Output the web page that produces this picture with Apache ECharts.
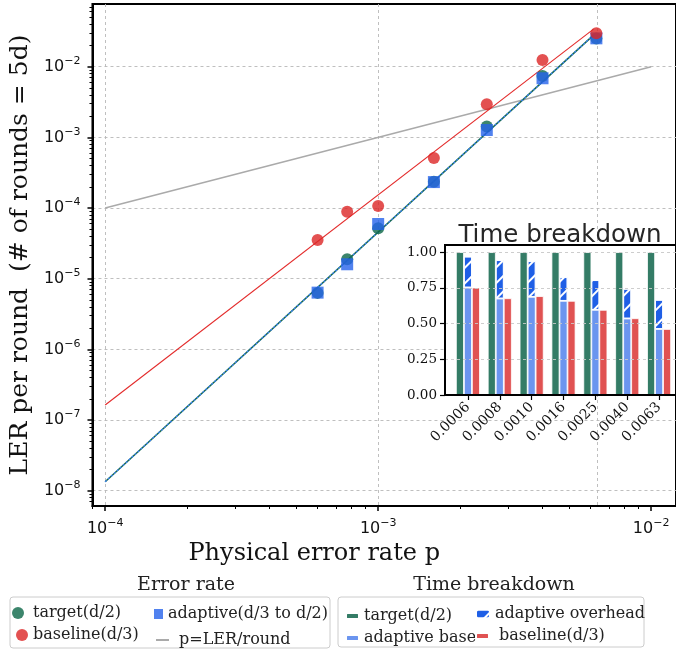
<!DOCTYPE html>
<html>
<head>
<meta charset="utf-8">
<title>LER per round</title>
<script src="https://cdn.jsdelivr.net/npm/echarts@6.0.0/dist/echarts.min.js"></script>
<style>
  html, body { margin: 0; padding: 0; background: #fff; }
  #main { width: 676px; height: 650px; }
</style>
</head>
<body>
<div id="main"></div>
<script type="text/javascript">
// main plot data
var pVals = [6.0e-4, 7.7e-4, 1.0e-3, 1.6e-3, 2.5e-3, 4.0e-3, 6.3e-3];
var lerTarget = [6.3e-6, 1.88e-5, 5.16e-5, 2.35e-4, 1.42e-3, 7.4e-3, 2.5e-2];
var lerAdaptive = [6.35e-6, 1.6e-5, 5.94e-5, 2.33e-4, 1.27e-3, 6.86e-3, 2.52e-2];
var lerBaseline = [3.53e-5, 8.87e-5, 1.07e-4, 5.1e-4, 2.94e-3, 1.24e-2, 2.97e-2];
// fitted lines (end points)
var fitP = [1e-4, 6.15e-3];
var fitTarget = [1.34e-8, 2.8e-2];
var fitAdaptive = [1.34e-8, 2.8e-2];
var fitBaseline = [1.63e-7, 3.4e-2];
var refP = [1e-4, 1e-2];
// tick values
var xMajor = [1e-4, 1e-3, 1e-2];
var yMajor = [1e-8, 1e-7, 1e-6, 1e-5, 1e-4, 1e-3, 1e-2];
var xGrid = [1e-4, 1e-3, 6.37e-3];

// inset data
var pLabels = ['0.0006', '0.0008', '0.0010', '0.0016', '0.0025', '0.0040', '0.0063'];
var timeTarget = [1, 1, 1, 1, 1, 1, 1];
var timeAdaptiveBase = [0.752, 0.675, 0.687, 0.659, 0.596, 0.535, 0.462];
var timeAdaptiveOverhead = [0.217, 0.269, 0.250, 0.166, 0.208, 0.208, 0.204];
var timeBaseline = [0.752, 0.677, 0.692, 0.659, 0.596, 0.537, 0.462];
var insetTicks = [0, 0.25, 0.5, 0.75, 1.0];

var serif = 'DejaVu Serif';
var sans = 'DejaVu Sans';

function minorTicks(lo, hi) {
    var out = [];
    for (var e = -10; e <= 0; e++) {
        for (var m = 2; m <= 9; m++) {
            var v = m * Math.pow(10, e);
            if (v >= lo && v <= hi) out.push(v);
        }
    }
    return out;
}
function pairs(xs, ys) {
    return xs.map(function (x, i) { return [x, ys[i]]; });
}
function powLabel(v) {
    var e = Math.round(Math.log10(v));
    return '{b|10}{s|' + (e < 0 ? '\u2212' : '') + Math.abs(e) + '}';
}

var xLogMin = -4.0465, xLogMax = -1.909;
var xMin = Math.pow(10, xLogMin), xMax = Math.pow(10, xLogMax);
var yMin = Math.pow(10, -8.2165), yMax = Math.pow(10, -1.1128);

var powRich = {
    b: { fontFamily: sans, fontSize: 16, color: '#111', lineHeight: 22 },
    s: { fontFamily: sans, fontSize: 11, color: '#111', lineHeight: 12, verticalAlign: 'top' }
};
var gridDash = { color: '#b8b8b8', width: 0.9, type: [3, 3] };

var myChart = echarts.init(document.getElementById('main'));

var legendText = { fontFamily: serif, fontSize: 16, color: '#222' };
function oneLegend(name, left, top, w, h, fmt, icon) {
    var l = {
        data: [name], left: left, top: top, itemWidth: w, itemHeight: h,
        padding: 0, itemGap: 0, selectedMode: false,
        formatter: fmt || '{name}', textStyle: legendText
    };
    if (icon) l.icon = icon;
    return l;
}

var option = {
    animation: false,
    backgroundColor: '#fff',
    title: {
        text: 'Time breakdown', left: 555, top: 218, textAlign: 'center',
        textStyle: { fontFamily: sans, fontSize: 24.5, fontWeight: 'normal', color: '#262626' }
    },
    grid: [
        { left: 90, top: 4, right: -2, bottom: 144, show: true, borderColor: '#000', borderWidth: 2, backgroundColor: 'transparent' },
        // inset frame
        { left: 445, top: 245, right: -7, bottom: 255, show: true, borderColor: '#000', borderWidth: 2, backgroundColor: '#fff', z: 3 },
        // inset bars
        { left: 452, top: 245, right: 1, bottom: 255, show: false, z: 4 }
    ],
    xAxis: [
        {
            type: 'log', gridIndex: 0, min: xMin, max: xMax,
            name: 'Physical error rate p', nameLocation: 'middle', nameGap: 34,
            nameTextStyle: { fontFamily: serif, fontSize: 24, color: '#111', padding: [0, 140, 0, 0] },
            axisLine: { show: true, lineStyle: { color: '#000', width: 2 } },
            axisTick: { show: true, customValues: xMajor, length: 5, lineStyle: { color: '#000', width: 1.5 } },
            axisLabel: { customValues: xMajor, margin: 12, formatter: powLabel, rich: powRich },
            splitLine: { show: false }
        },
        {
            type: 'log', gridIndex: 0, min: xMin, max: xMax, position: 'bottom',
            axisLine: { show: false },
            axisTick: { show: true, customValues: minorTicks(xMin, xMax), length: 3, lineStyle: { color: '#000', width: 1 } },
            axisLabel: { show: false }, splitLine: { show: false }
        },
        {
            // vertical grid lines of the main plot, on log10(p); fine interval keeps tick precision
            type: 'value', gridIndex: 0, min: xLogMin, max: xLogMax, interval: 0.0005, position: 'bottom',
            axisLine: { show: false },
            axisTick: { show: true, customValues: xGrid.map(Math.log10), length: 0, lineStyle: { width: 0, color: 'transparent' } },
            axisLabel: { show: false },
            splitLine: { show: true, lineStyle: gridDash }
        },
        {
            type: 'value', gridIndex: 1, min: 0, max: 1, z: 6,
            axisLine: { show: true, onZero: false, lineStyle: { color: '#000', width: 2 } },
            axisTick: { show: false }, axisLabel: { show: false }, splitLine: { show: false }
        },
        {
            type: 'category', gridIndex: 2, data: pLabels, boundaryGap: true, z: 6,
            axisLine: { show: false },
            axisTick: { show: true, alignWithLabel: true, length: 5, lineStyle: { color: '#000', width: 1.2 } },
            axisLabel: { rotate: 45, margin: 10, fontFamily: serif, fontSize: 14, color: '#111', interval: 0 },
            splitLine: { show: false }
        }
    ],
    yAxis: [
        {
            type: 'log', gridIndex: 0, min: yMin, max: yMax,
            name: 'LER per round  (# of rounds = 5d)', nameLocation: 'middle', nameGap: 56,
            nameTextStyle: { fontFamily: serif, fontSize: 25, color: '#111' },
            axisLine: { show: true, lineStyle: { color: '#000', width: 2 } },
            axisTick: { show: true, customValues: yMajor, length: 5, lineStyle: { color: '#000', width: 1.5 } },
            axisLabel: { customValues: yMajor, margin: 12, formatter: powLabel, rich: powRich },
            splitLine: { show: true, lineStyle: gridDash }
        },
        {
            type: 'log', gridIndex: 0, min: yMin, max: yMax, position: 'left',
            axisLine: { show: false },
            axisTick: { show: true, customValues: minorTicks(yMin, yMax), length: 3, lineStyle: { color: '#000', width: 1 } },
            axisLabel: { show: false }, splitLine: { show: false }
        },
        {
            type: 'value', gridIndex: 1, min: 0, max: 1.05, z: 6,
            axisLine: { show: true, lineStyle: { color: '#000', width: 2 } },
            axisTick: { show: true, customValues: insetTicks, length: 5, lineStyle: { color: '#000', width: 1.2 } },
            axisLabel: {
                customValues: insetTicks, margin: 8, fontFamily: serif, fontSize: 13.5, color: '#111',
                formatter: function (v) { return v.toFixed(2); }
            },
            splitLine: { show: true, lineStyle: { color: '#c8c8c8', width: 0.9, type: [3, 3] } }
        },
        {
            type: 'value', gridIndex: 2, min: 0, max: 1.05, show: false
        }
    ],
    legend: [
        oneLegend('target(d/2)', 12, 605, 20, 12),
        oneLegend('baseline(d/3)', 16, 627, 12, 12),
        oneLegend('adaptive(d/3 to d/2)', 154, 606, 9, 10),
        oneLegend('p=LER/round', 156, 632, 13, 2, ' {name}', 'rect'),
        oneLegend('target(d/2) ', 345, 608, 13, 6),
        oneLegend('adaptive overhead', 475, 606, 14, 9),
        oneLegend('adaptive base', 345, 630, 13, 6),
        oneLegend('baseline(d/3) ', 475, 628, 13, 6, ' {name}')
    ],
    graphic: [
        { type: 'rect', shape: { x: 10, y: 597, width: 320, height: 51, r: 3 }, style: { fill: '#fff', stroke: '#cccccc', lineWidth: 1 }, z: -1 },
        { type: 'rect', shape: { x: 338, y: 597, width: 306, height: 50, r: 3 }, style: { fill: '#fff', stroke: '#cccccc', lineWidth: 1 }, z: -1 },
        { type: 'text', x: 186, y: 585, style: { text: 'Error rate', fontFamily: serif, fontSize: 19, fill: '#222', align: 'center', verticalAlign: 'middle' } },
        { type: 'text', x: 494, y: 585, style: { text: 'Time breakdown', fontFamily: serif, fontSize: 19, fill: '#222', align: 'center', verticalAlign: 'middle' } }
    ],
    series: [
        {
            name: 'p=LER/round', type: 'line', xAxisIndex: 0, yAxisIndex: 0, z: 2,
            data: pairs(refP, refP), symbol: 'none',
            lineStyle: { color: '#aaaaaa', width: 1.5 }, itemStyle: { color: '#aaaaaa' }
        },
        {
            name: 'fit baseline', type: 'line', xAxisIndex: 0, yAxisIndex: 0, z: 2,
            data: pairs(fitP, fitBaseline), symbol: 'none',
            lineStyle: { color: '#e32b2b', width: 1.1 }
        },
        {
            name: 'fit target', type: 'line', xAxisIndex: 0, yAxisIndex: 0, z: 2,
            data: pairs(fitP, fitTarget), symbol: 'none',
            lineStyle: { color: '#17684f', width: 1.6 }
        },
        {
            name: 'fit adaptive', type: 'line', xAxisIndex: 0, yAxisIndex: 0, z: 2,
            data: pairs(fitP, fitAdaptive), symbol: 'none',
            lineStyle: { color: '#3b82f6', width: 1.3, type: [2, 2] }
        },
        {
            name: 'target(d/2)', type: 'scatter', xAxisIndex: 0, yAxisIndex: 0, z: 3,
            data: pairs(pVals, lerTarget), symbol: 'circle', symbolSize: 12,
            itemStyle: { color: '#0b6647' }
        },
        {
            name: 'adaptive(d/3 to d/2)', type: 'scatter', xAxisIndex: 0, yAxisIndex: 0, z: 4,
            data: pairs(pVals, lerAdaptive), symbol: 'rect', symbolSize: 12,
            itemStyle: { color: '#2563eb' }
        },
        {
            name: 'baseline(d/3)', type: 'scatter', xAxisIndex: 0, yAxisIndex: 0, z: 4,
            data: pairs(pVals, lerBaseline), symbol: 'circle', symbolSize: 12,
            itemStyle: { color: '#dc2626' }
        },
        // inset bars
        {
            name: 'target(d/2) ', type: 'bar', xAxisIndex: 4, yAxisIndex: 3, z: 5,
            data: timeTarget, barWidth: 8, barGap: '0%',
            itemStyle: { color: '#347c66', borderColor: '#fff', borderWidth: 0.8 }
        },
        {
            name: 'adaptive base', type: 'bar', xAxisIndex: 4, yAxisIndex: 3, z: 5, stack: 'ad',
            data: timeAdaptiveBase, barWidth: 8, barGap: '0%',
            itemStyle: { color: '#6b95ef', borderColor: '#fff', borderWidth: 0.8 }
        },
        {
            name: 'adaptive overhead', type: 'bar', xAxisIndex: 4, yAxisIndex: 3, z: 5, stack: 'ad',
            data: timeAdaptiveOverhead, barWidth: 8, barGap: '0%',
            itemStyle: {
                color: '#1f5fe6', borderColor: '#fff', borderWidth: 0.8,
                decal: { symbol: 'rect', symbolSize: 1, dashArrayX: [1, 0], dashArrayY: [2, 9], rotation: -Math.PI / 4, color: '#ffffff' }
            }
        },
        {
            name: 'baseline(d/3) ', type: 'bar', xAxisIndex: 4, yAxisIndex: 3, z: 5,
            data: timeBaseline, barWidth: 8, barGap: '0%',
            itemStyle: { color: '#e05252', borderColor: '#fff', borderWidth: 0.8 }
        }
    ]
};

myChart.setOption(option);
</script>
</body>
</html>
